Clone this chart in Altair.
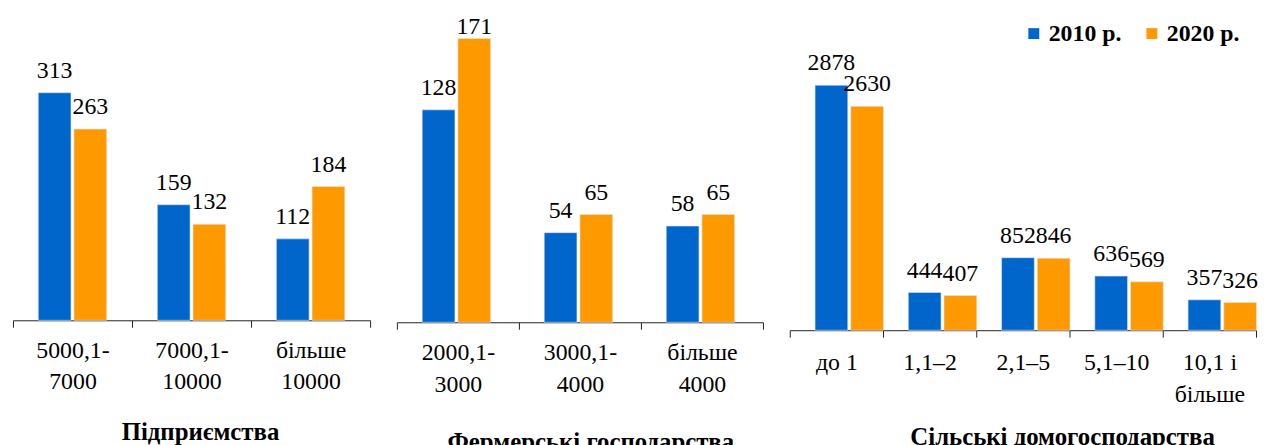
import altair as alt
import pandas as pd

years = ["2010 р.", "2020 р."]
colors = ["#0066CC", "#FF9900"]

cat1 = ["5000,1-\n7000", "7000,1-\n10000", "більше\n10000"]
p1_2010 = [313, 159, 112]
p1_2020 = [263, 132, 184]

cat2 = ["2000,1-\n3000", "3000,1-\n4000", "більше\n4000"]
p2_2010 = [128, 54, 58]
p2_2020 = [171, 65, 65]

cat3 = ["до 1", "1,1–2", "2,1–5", "5,1–10", "10,1 і\nбільше"]
p3_2010 = [2878, 444, 852, 636, 357]
p3_2020 = [2630, 407, 846, 569, 326]

titles = ["Підприємства", "Фермерські господарства", "Сільські домогосподарства"]

FONT = "Liberation Serif"


def frame(cats, a, b):
    rows = []
    for c, v in zip(cats, a):
        rows.append({"cat": c, "year": years[0], "value": v})
    for c, v in zip(cats, b):
        rows.append({"cat": c, "year": years[1], "value": v})
    return pd.DataFrame(rows)


legend = alt.Legend(
    title=None, orient="none", direction="horizontal",
    legendX=1017, legendY=12,
    symbolType="square", symbolSize=121, symbolStrokeWidth=0,
    labelFont=FONT, labelFontSize=24, labelFontWeight="bold", labelColor="black",
    labelOffset=3, columnPadding=18,
)


def panel(df, cats, title, width, height, ymax, pi, po, tdx, toff, lpad):
    base = alt.Chart(df)
    x = alt.X(
        "cat:N", sort=cats,
        scale=alt.Scale(paddingInner=0, paddingOuter=0),
        axis=alt.Axis(
            title=None, labelAngle=0, labelExpr="split(datum.label, '\\n')",
            tickBand="extent", tickSize=7, tickColor="#222", domainColor="#222",
            labelFont=FONT, labelFontSize=24, labelColor="black",
            labelLineHeight=32, labelPadding=lpad, labelLimit=300,
        ),
    )
    xo = alt.XOffset("year:N", sort=years,
                     scale=alt.Scale(paddingInner=pi, paddingOuter=po))
    y = alt.Y("value:Q", scale=alt.Scale(domain=[0, ymax], nice=False), axis=None)
    color = alt.Color("year:N", sort=years,
                      scale=alt.Scale(domain=years, range=colors), legend=legend)
    bars = base.mark_bar(stroke="#dfe8f5", strokeWidth=0.6).encode(
        x=x, xOffset=xo, y=y, color=color)
    limit = ymax * 0.85
    text_out = base.mark_text(
        font=FONT, fontSize=24, color="black", baseline="alphabetic", dy=-15
    ).encode(x=x, xOffset=xo, y=y, text="value:Q").transform_filter(
        alt.datum.value <= limit)
    text_top = base.mark_text(
        font=FONT, fontSize=24, color="black", baseline="alphabetic", dy=-5
    ).encode(x=x, xOffset=xo, y=y, text="value:Q").transform_filter(
        alt.datum.value > limit)
    return alt.layer(bars, text_out, text_top).properties(
        width=width, height=height,
        title=alt.TitleParams(
            title, orient="bottom", anchor="middle", font=FONT, fontSize=25,
            fontWeight="bold", color="black", dx=tdx, offset=toff,
        ),
    )


c1 = panel(frame(cat1, p1_2010, p1_2020), cat1, titles[0], 360, 313, 427, 0.083, 0.708, 9, 27, 11)
c2 = panel(frame(cat2, p2_2010, p2_2020), cat2, titles[1], 369, 315, 188.3, 0.105, 0.684, 11, 34, 12)
c3 = panel(frame(cat3, p3_2010, p3_2020), cat3, titles[2], 470, 323, 3764, 0.10, 0.28, 40, 19, 14)

chart = alt.hconcat(c1, c2, c3, spacing=27, bounds="flush").properties(
    padding={"left": 4, "top": 0, "right": 0, "bottom": 0}
).configure_view(stroke=None)

chart.save("out.html", embed_options={"renderer": "svg", "actions": False})
